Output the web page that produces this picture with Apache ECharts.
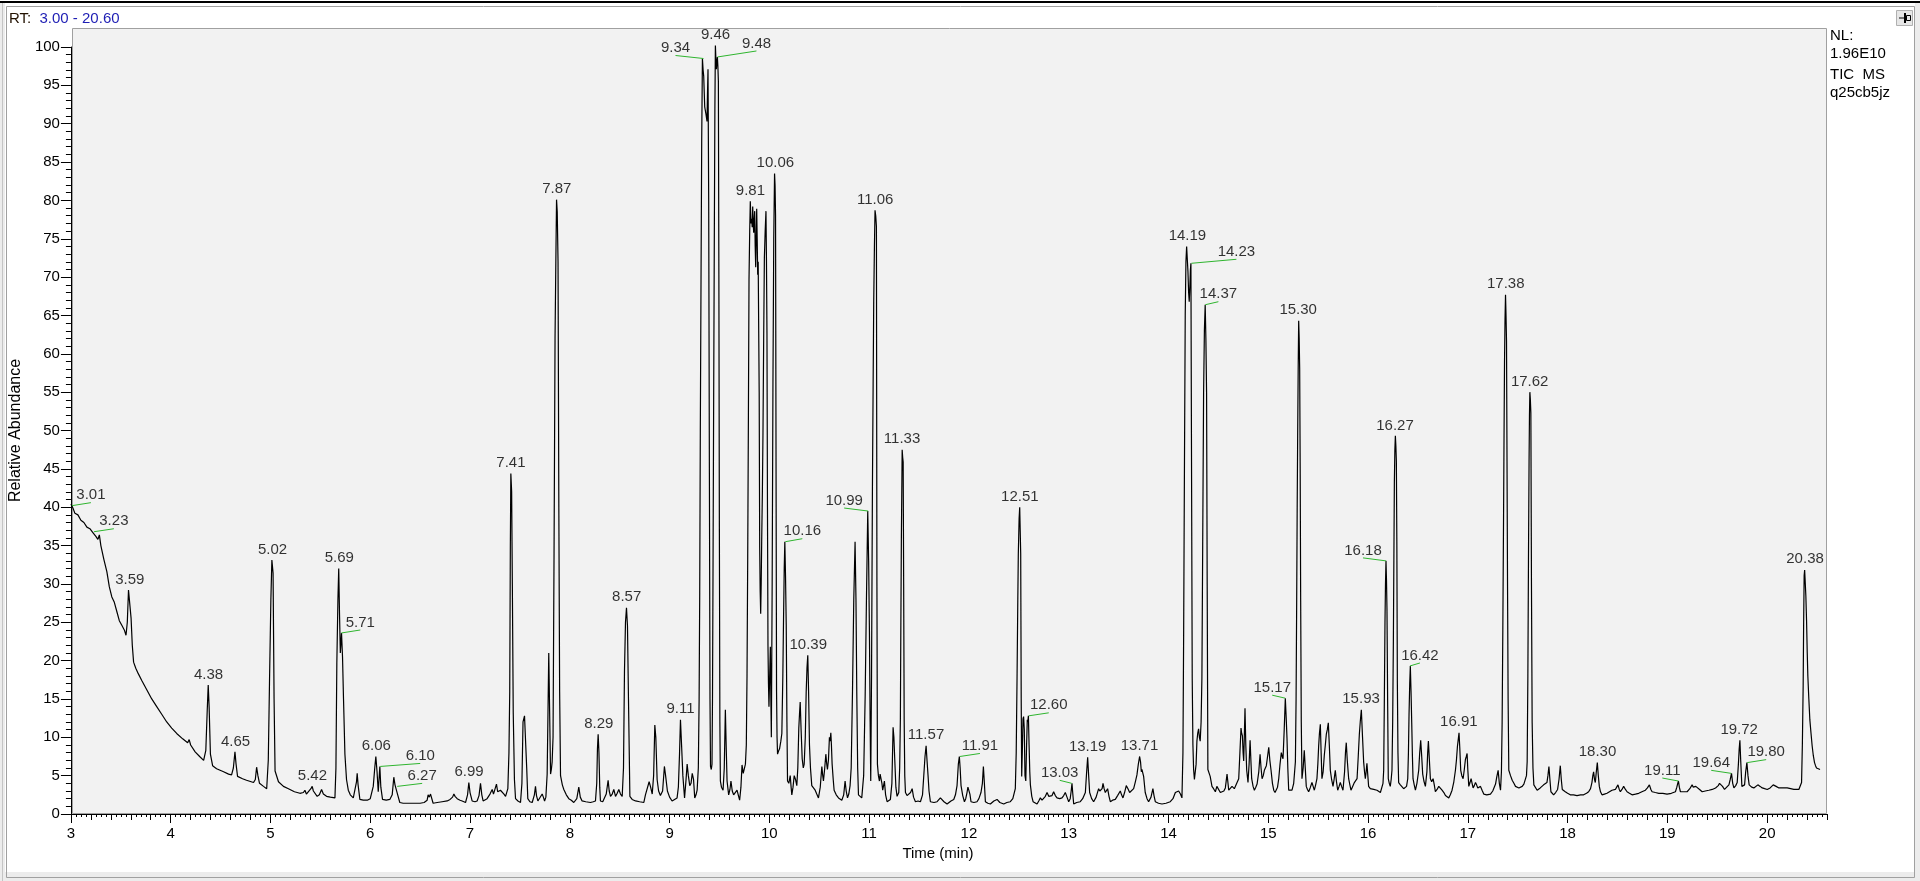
<!DOCTYPE html>
<html>
<head>
<meta charset="utf-8">
<script src="https://cdn.jsdelivr.net/npm/echarts@6.0.0/dist/echarts.min.js"></script>
<style>
  html, body { margin: 0; padding: 0; background: #fff; }
  #main { width: 1920px; height: 881px; }
</style>
</head>
<body>
<div id="main"></div>
<script>
// TIC trace: [time (min), relative abundance]
var trace3 = [
  [3.00,40.4],[3.02,39.9],[3.04,39.2],[3.07,39.0],[3.10,38.3],[3.13,38.0],[3.16,37.4],[3.19,37.2],[3.22,36.7],
  [3.25,36.2],[3.27,35.8],[3.285,36.4],[3.30,35.0],[3.33,33.2],[3.36,31.6],[3.385,29.6],[3.41,28.3],[3.435,27.6],
  [3.46,26.4],[3.485,25.2],[3.51,24.6],[3.535,24.0],[3.552,23.3],[3.565,25.0],[3.577,29.2],[3.591,29.0],
  [3.603,25.5],[3.615,22.0],[3.628,19.8],[3.65,19.0],[3.675,18.3],[3.71,17.4],[3.76,16.2],[3.81,15.0],
  [3.86,14.0],[3.91,13.0],[3.96,12.0],[4.01,11.2],[4.06,10.5],[4.12,9.8],[4.17,9.3],[4.185,9.7],[4.20,9.0],
  [4.245,8.1],[4.29,7.5],[4.33,7.0],[4.352,8.3],[4.366,13.5],[4.376,16.8],[4.385,14.0],[4.398,7.8],[4.42,6.3],
  [4.46,5.9],[4.53,5.5],[4.58,5.2],[4.61,5.1],[4.628,6.0],[4.644,8.1],[4.655,6.5],[4.67,4.9],[4.72,4.6],
  [4.76,4.4],[4.83,4.1],[4.848,4.5],[4.861,6.1],[4.874,5.0],[4.89,4.0],[4.93,3.6],[4.962,3.3],[4.978,7.0],
  [4.99,17.0],[5.004,28.0],[5.014,33.1],[5.026,31.4],[5.036,15.0],[5.046,5.6],[5.08,4.2],[5.13,3.6],
  [5.18,3.3],[5.20,3.5],[5.24,2.9],[5.295,2.7],[5.33,2.8],[5.345,3.1],[5.36,2.6],[5.378,2.6],[5.405,3.3],
  [5.418,3.6],[5.43,3.0],[5.468,2.3],[5.49,2.5],[5.512,3.2],[5.53,2.6],[5.562,2.3],[5.60,2.2],[5.646,2.1],
  [5.656,6.0],[5.665,19.6],[5.676,28.0],[5.684,32.0],[5.692,26.0],[5.70,21.0],[5.712,23.6],[5.722,20.5],
  [5.732,15.0],[5.746,7.8],[5.762,4.5],[5.78,3.1],[5.80,2.5],[5.83,2.1],[5.85,2.3],[5.862,4.2],[5.869,5.3],
  [5.878,3.8],[5.896,1.9],[5.93,1.8],[5.97,1.8],[6.00,2.0],[6.03,3.6],[6.045,6.0],[6.056,7.5],[6.068,5.5],
  [6.08,2.9],[6.088,4.5],[6.096,6.2],[6.106,3.5],[6.123,1.9],[6.16,1.8],[6.196,1.9],[6.22,2.5],[6.236,4.8],
  [6.248,3.8],[6.263,3.6],[6.275,2.5],[6.296,1.5],[6.33,1.4],[6.38,1.4],[6.43,1.4],[6.463,1.4],[6.48,1.6],
  [6.50,1.4],[6.54,1.5],[6.57,1.8],[6.58,2.5],[6.592,2.2],[6.604,2.6],[6.63,1.4]
];
var trace7 = [
  [6.65,1.6],[6.671,1.5],[6.72,1.6],[6.771,1.7],[6.80,1.9],[6.825,2.2],[6.838,2.6],[6.85,2.3],[6.871,2.0],
  [6.90,1.8],[6.921,1.7],[6.955,1.5],[6.975,2.5],[6.988,4.1],[7.00,2.8],[7.021,1.7],[7.05,1.6],[7.071,1.7],
  [7.09,2.4],[7.105,4.0],[7.118,2.5],[7.131,1.7],[7.15,1.8],[7.171,2.0],[7.20,2.6],[7.222,3.2],[7.235,2.6],
  [7.245,2.6],[7.265,3.9],[7.277,2.9],[7.289,2.8],[7.305,3.1],[7.322,3.0],[7.34,2.6],[7.356,2.3],[7.379,3.3],
  [7.39,8.0],[7.398,16.0],[7.404,35.0],[7.409,44.4],[7.417,42.0],[7.424,30.0],[7.433,13.2],[7.445,4.5],
  [7.456,2.0],[7.48,1.7],[7.506,1.5],[7.52,4.0],[7.531,12.0],[7.546,12.8],[7.558,12.6],[7.568,6.0],[7.579,2.0],
  [7.60,1.6],[7.623,1.5],[7.645,2.5],[7.656,3.6],[7.666,2.4],[7.68,1.7],[7.70,1.9],[7.723,2.6],[7.735,2.2],
  [7.747,1.7],[7.76,2.2],[7.773,5.2],[7.781,13.0],[7.789,21.0],[7.797,14.0],[7.807,5.2],[7.815,5.8],
  [7.823,6.8],[7.832,10.0],[7.842,34.0],[7.852,62.0],[7.86,72.0],[7.867,80.1],[7.874,78.5],[7.882,72.0],
  [7.89,40.0],[7.898,16.0],[7.907,5.0],[7.925,3.8],[7.94,3.2],[7.965,2.5],[7.99,2.0],[8.015,1.8],[8.04,1.5],
  [8.07,2.0],[8.09,3.5],[8.105,2.2],[8.123,1.7],[8.16,1.6],[8.207,1.5],[8.235,1.6],[8.257,1.7],[8.27,4.0],
  [8.277,8.5],[8.284,10.4],[8.292,8.0],[8.30,3.5],[8.307,1.7],[8.33,1.6],[8.347,1.5],[8.365,2.6],[8.384,4.4],
  [8.395,3.0],[8.408,2.3],[8.425,2.6],[8.441,3.2],[8.458,2.3],[8.475,2.7],[8.491,3.2],[8.508,2.6],[8.525,2.3],
  [8.538,6.0],[8.548,18.7],[8.558,25.0],[8.568,26.9],[8.578,24.5],[8.588,15.0],[8.602,2.3],[8.625,1.9],
  [8.659,1.7],[8.70,1.6],[8.742,1.5],[8.758,2.5],[8.776,2.3],[8.795,4.2],[8.81,3.5],[8.826,2.6],[8.84,5.0],
  [8.852,11.6],[8.862,10.0],[8.875,4.5],[8.89,3.0],[8.908,2.4],[8.93,3.0],[8.948,6.2],[8.96,5.0],[8.978,3.0],
  [9.00,2.2],[9.025,1.7],[9.044,1.6],[9.075,2.1],[9.088,3.5],[9.10,8.0],[9.109,12.3],[9.12,9.0],[9.133,5.0],
  [9.15,2.1],[9.165,4.5],[9.176,6.5],[9.188,5.0],[9.202,3.7],[9.215,4.0],[9.227,5.3],[9.24,4.5],[9.252,2.1],
  [9.265,2.5],[9.276,3.1],[9.288,6.0]
];
var trace9 = [
  [9.296,15.0],[9.302,28.8],[9.308,50.0],[9.315,69.5],[9.322,88.0],[9.329,98.5],[9.336,97.0],[9.342,96.2],
  [9.352,92.2],[9.365,91.2],[9.375,90.3],[9.38,94.0],[9.385,97.1],[9.392,80.0],[9.399,44.3],[9.405,15.0],
  [9.41,6.2],[9.418,5.8],[9.425,6.5],[9.43,15.0],[9.435,30.8],[9.442,55.0],[9.449,77.4],[9.454,92.0],
  [9.459,100.2],[9.464,98.5],[9.469,97.1],[9.474,98.0],[9.479,98.7],[9.484,97.5],[9.489,95.5],[9.494,70.0],
  [9.499,36.8],[9.504,12.0],[9.509,4.3],[9.52,3.5],[9.536,3.1],[9.548,6.0],[9.559,13.6],[9.567,9.0],
  [9.576,4.3],[9.592,2.5],[9.605,3.2],[9.615,4.3],[9.628,3.0],[9.642,2.5],[9.66,2.7],[9.676,3.1],[9.69,2.4],
  [9.702,1.8],[9.715,3.5],[9.726,6.4],[9.738,5.3],[9.749,5.3],[9.76,6.5],[9.769,9.0],[9.776,18.0],
  [9.783,33.5],[9.79,52.0],[9.796,69.7],[9.803,76.0],[9.809,79.9],[9.816,77.0],[9.823,77.6],[9.828,76.5],
  [9.833,79.2],[9.838,77.0],[9.843,75.8],[9.848,77.5],[9.853,78.6],[9.858,74.0],[9.863,71.3],[9.868,75.0],
  [9.873,78.9],[9.878,75.0],[9.883,70.3],[9.888,72.0],[9.893,71.8],[9.898,55.0],[9.903,34.8],[9.908,29.0],
  [9.913,26.1],[9.918,30.0],[9.923,35.5],[9.93,42.0],[9.936,49.7],[9.943,62.0],[9.95,72.5],[9.958,76.0],
  [9.966,78.6],[9.971,72.0],[9.976,62.6],[9.981,40.0],[9.986,22.0],[9.991,17.0],[9.996,14.0],[10.003,18.0],
  [10.01,21.8],[10.015,15.0],[10.02,10.0],[10.028,30.0],[10.036,56.4],[10.044,75.0],[10.052,83.5],
  [10.057,82.0],[10.062,78.0],[10.067,45.0],[10.072,16.0],[10.077,10.0],[10.082,7.8],[10.092,8.2],
  [10.102,8.5],[10.115,9.5],[10.125,10.5],[10.135,18.0],[10.142,25.4],[10.149,32.0],[10.155,35.5],
  [10.162,31.0],[10.169,24.7],[10.176,12.0],[10.182,4.3],[10.195,4.0],[10.209,5.0],[10.218,3.5],[10.225,2.5],
  [10.237,3.5],[10.249,5.0],[10.262,4.5],[10.275,3.7],[10.285,6.0],[10.295,11.2],[10.302,13.0],[10.309,14.6],
  [10.318,11.0],[10.329,7.2],[10.34,6.0],[10.349,6.5],[10.36,10.0],[10.369,15.9],[10.377,19.0],[10.385,20.7],
  [10.393,16.0],[10.402,9.0],[10.412,6.0],[10.425,3.7],[10.44,3.5],[10.459,3.1],[10.475,2.6],[10.492,2.1],
  [10.51,3.5],[10.526,6.2],[10.535,5.0],[10.542,4.3],[10.555,6.0],[10.566,7.8],[10.575,6.5],[10.582,5.8],
  [10.592,7.0],[10.602,10.0],[10.609,9.5],[10.616,10.6],[10.622,9.0],[10.629,6.5],[10.64,4.5],[10.649,3.1],
  [10.67,2.5],[10.693,2.1],[10.726,1.8],[10.745,2.5],[10.759,4.3],[10.77,3.0],[10.783,2.1],[10.796,2.6],
  [10.809,3.7],[10.82,6.0],[10.833,15.9],[10.846,28.0],[10.859,35.5],[10.868,28.0],[10.876,15.9],[10.885,6.0],
  [10.893,2.5],[10.91,2.3],[10.926,2.1],[10.945,5.0],[10.96,15.3],[10.973,28.0],[10.986,39.5],[10.995,33.0],
  [11.003,23.6],[11.01,12.0],[11.016,4.3],[11.024,18.0],[11.033,42.7],[11.04,56.0],[11.046,66.9],
  [11.053,74.0],[11.059,78.7],[11.066,78.0],[11.073,76.6],[11.078,30.0],[11.083,6.5],[11.093,5.0],
  [11.103,4.3],[11.11,5.2],[11.119,5.2],[11.128,4.0],[11.136,3.1],[11.145,3.2],[11.153,4.3],[11.165,2.5],
  [11.18,1.6]
];
var trace11 = [
  [11.213,1.9],[11.228,4.0],[11.24,11.3],[11.248,10.0],[11.257,7.0],[11.268,3.5],[11.28,2.3],[11.297,2.8],
  [11.306,6.0],[11.313,12.4],[11.318,25.0],[11.323,36.0],[11.331,47.5],[11.336,46.5],[11.341,45.9],
  [11.346,30.0],[11.351,12.4],[11.357,5.0],[11.364,2.8],[11.38,2.4],[11.397,2.3],[11.415,2.8],[11.431,3.3],
  [11.445,2.2],[11.464,1.6],[11.49,1.7],[11.514,1.6],[11.535,2.5],[11.547,4.9],[11.56,7.5],[11.571,8.9],
  [11.58,7.0],[11.591,4.9],[11.60,3.0],[11.614,1.6],[11.65,1.5],[11.681,1.6],[11.70,1.8],[11.714,2.1],
  [11.75,1.6],[11.781,1.3],[11.82,1.7],[11.848,1.9],[11.865,2.5],[11.881,3.7],[11.894,6.5],[11.904,7.5],
  [11.912,6.0],[11.921,3.7],[11.938,2.4],[11.955,1.6],[11.968,2.0],[11.981,2.8],[11.99,3.5],[11.998,3.7],
  [12.01,2.6],[12.021,1.6],[12.05,1.5],[12.081,1.6],[12.10,2.0],[12.121,2.8],[12.135,4.0],[12.145,6.2],
  [12.155,4.0],[12.165,1.6],[12.19,1.4],[12.215,1.3],[12.25,1.7],[12.282,1.9],[12.31,1.5],[12.349,1.3],
  [12.38,1.5],[12.415,1.6],[12.44,2.0],[12.465,3.3],[12.474,8.0],[12.482,17.3],[12.49,28.0],[12.495,33.9],
  [12.503,38.5],[12.509,40.0],[12.514,37.0],[12.519,33.9],[12.524,15.0],[12.529,4.9],[12.535,8.0],
  [12.542,12.4],[12.548,12.7],[12.555,11.0],[12.562,5.0],[12.57,4.3],[12.578,9.0],[12.585,12.3],[12.59,12.0],
  [12.596,12.8],[12.603,9.0],[12.61,5.5],[12.616,3.8],[12.63,2.3],[12.643,1.6],[12.663,1.5],[12.683,1.3],
  [12.70,1.7],[12.716,2.1],[12.733,1.8],[12.749,1.9],[12.766,2.3],[12.783,2.8],[12.80,2.3],[12.816,2.1],
  [12.833,2.4],[12.849,2.9],[12.866,2.4],[12.883,2.1],[12.91,2.0],[12.933,2.1],[12.95,2.4],[12.966,2.8],
  [12.983,2.2],[13.00,1.6],[13.015,2.0],[13.025,3.0],[13.033,4.0],[13.04,2.8],[13.05,1.3],[13.08,1.5],
  [13.116,1.6],[13.14,2.0],[13.167,2.8],[13.18,5.5],[13.19,7.4],[13.20,5.0],[13.21,2.8],[13.23,2.0],
  [13.25,1.6],[13.275,2.2],[13.30,3.3],[13.312,3.0],[13.324,2.8],[13.335,3.3],[13.344,4.0],[13.355,3.3],
  [13.367,2.8],[13.378,3.0],[13.39,3.3],[13.404,2.3],[13.417,1.6],[13.44,1.8],[13.467,1.9],[13.49,2.4],
  [13.517,3.0],[13.53,2.5],[13.544,2.1],[13.56,2.8],[13.577,3.7],[13.594,3.3],[13.611,2.8],[13.63,2.9],
  [13.651,3.3],[13.668,4.2],[13.684,5.1],[13.698,6.5],[13.711,7.5],[13.72,6.8],[13.728,5.5],[13.734,5.8],
  [13.741,5.6],[13.751,4.9],[13.767,2.8],[13.785,2.0],[13.801,1.6],[13.825,2.2],[13.844,3.3],[13.855,2.4],
  [13.868,1.6],[13.90,1.4],[13.935,1.3],[13.975,1.4],[14.018,1.6],[14.045,2.0],[14.069,2.8],[14.085,2.6],
  [14.102,3.0],[14.12,2.6],[14.135,2.1]
];
var trace14 = [
  [14.145,8.0],[14.152,23.2],[14.16,45.0],[14.168,65.2],[14.175,72.0],[14.182,74.0],[14.188,72.5],
  [14.195,70.8],[14.202,68.0],[14.208,66.8],[14.215,69.0],[14.22,71.0],[14.225,71.8],[14.23,50.0],
  [14.238,17.7],[14.245,9.0],[14.252,5.8],[14.26,4.5],[14.268,4.3],[14.277,6.5],[14.285,9.5],[14.293,10.5],
  [14.302,11.1],[14.31,10.0],[14.318,9.5],[14.327,12.0],[14.335,17.7],[14.343,35.0],[14.352,54.9],
  [14.36,63.0],[14.368,66.4],[14.375,62.0],[14.382,54.9],[14.388,30.0],[14.395,5.8],[14.403,5.7],
  [14.418,4.9],[14.436,3.6],[14.452,3.3],[14.47,2.9],[14.485,3.6],[14.503,3.6],[14.52,2.8],[14.537,2.6],
  [14.555,3.0],[14.57,3.4],[14.587,5.2],[14.604,3.1],[14.62,3.2],[14.637,3.6],[14.66,3.3],[14.68,3.1],
  [14.704,4.6],[14.716,8.0],[14.727,11.2],[14.734,10.5],[14.741,10.2],[14.748,8.0],[14.754,6.9],[14.76,10.0],
  [14.767,13.8],[14.775,9.0],[14.784,5.7],[14.797,4.1],[14.808,6.5],[14.818,9.6],[14.826,7.0],[14.834,4.6],
  [14.848,3.6],[14.861,3.1],[14.875,3.5],[14.888,3.9],[14.905,5.5],[14.918,7.8],[14.928,6.0],[14.938,4.6],
  [14.95,5.0],[14.961,5.7],[14.971,6.0],[14.981,6.3],[14.993,7.5],[15.005,8.7],[15.016,7.0],[15.028,5.7],
  [15.042,4.0],[15.055,3.1],[15.068,2.8],[15.081,2.6],[15.093,3.5],[15.105,4.6],[15.118,6.5],[15.131,8.0],
  [15.14,7.5],[15.148,7.2],[15.16,11.0],[15.171,15.1],[15.18,12.5],[15.188,9.8],[15.196,6.0],[15.205,3.1],
  [15.22,3.0],[15.238,3.1],[15.255,4.0],[15.272,6.8],[15.279,15.0],[15.285,27.8],[15.29,40.0],[15.295,49.6],
  [15.30,58.0],[15.305,64.3],[15.31,62.0],[15.315,58.0],[15.32,45.0],[15.325,27.8],[15.331,12.0],
  [15.338,4.6],[15.35,6.0],[15.361,8.3],[15.371,6.0],[15.381,3.6],[15.393,3.2],[15.405,2.9],[15.42,3.4],
  [15.438,4.1],[15.45,3.6],[15.462,3.1],[15.475,3.8],[15.488,4.6],[15.497,6.5],[15.505,8.8],[15.513,10.5],
  [15.522,11.7],[15.53,8.0],[15.538,4.6],[15.55,5.5],[15.562,7.7],[15.572,9.0],[15.582,10.4],[15.592,11.0],
  [15.602,11.9],[15.612,9.0],[15.622,5.7],[15.635,4.5],[15.649,3.6],[15.66,4.5],[15.672,5.7],[15.684,4.2],
  [15.696,3.1],[15.71,3.6],[15.722,4.1],[15.735,3.6],[15.749,3.1],[15.765,5.5],[15.774,8.0],[15.782,9.3],
  [15.792,7.0],[15.806,4.6],[15.818,3.8],[15.829,3.1],[15.846,3.6],[15.863,4.1],[15.876,4.3],[15.89,4.6],
  [15.902,7.5],[15.913,10.4],[15.922,12.0],[15.933,13.6],[15.945,10.0],[15.956,6.8],[15.965,5.5],
  [15.973,4.6],[15.981,5.5],[15.989,6.6],[15.998,5.0],[16.006,3.6]
];
var trace16 = [
  [16.023,3.3],[16.04,3.1],[16.057,3.2],[16.073,3.4],[16.09,3.1],[16.107,2.9],[16.124,2.8],[16.14,2.6],
  [16.15,4.0],[16.157,5.7],[16.163,14.0],[16.17,25.1],[16.175,30.0],[16.18,33.0],[16.185,30.5],[16.19,26.6],
  [16.197,14.0],[16.203,4.6],[16.213,4.0],[16.223,3.6],[16.232,4.5],[16.24,5.7],[16.247,12.0],[16.254,22.5],
  [16.259,33.0],[16.264,43.3],[16.269,47.5],[16.274,49.3],[16.279,48.0],[16.284,46.0],[16.289,35.0],
  [16.294,17.1],[16.30,8.0],[16.307,4.1],[16.324,3.8],[16.341,3.6],[16.357,3.3],[16.374,3.1],[16.386,3.6],
  [16.398,4.6],[16.405,8.0],[16.411,13.0],[16.418,17.0],[16.424,19.3],[16.431,16.0],[16.438,11.9],
  [16.445,7.5],[16.451,4.6],[16.463,3.8],[16.475,3.1],[16.49,4.0],[16.508,5.7],[16.518,8.0],[16.528,9.6],
  [16.538,7.5],[16.548,5.2],[16.56,4.3],[16.575,3.6],[16.59,5.5],[16.598,8.0],[16.605,9.5],[16.615,7.0],
  [16.625,4.6],[16.638,4.2],[16.652,4.6],[16.664,3.8],[16.675,2.9],[16.692,3.2],[16.709,3.6],[16.725,3.4],
  [16.742,3.1],[16.76,2.8],[16.776,2.4],[16.792,2.2],[16.809,2.1],[16.825,2.5],[16.842,3.1],[16.86,4.2],
  [16.876,5.7],[16.886,7.0],[16.896,8.8],[16.905,9.8],[16.912,10.6],[16.92,8.5],[16.929,5.7],[16.94,5.0],
  [16.953,4.6],[16.965,5.8],[16.976,7.1],[16.985,7.5],[16.993,7.9],[17.00,5.8],[17.01,3.6],[17.022,4.1],
  [17.033,4.6],[17.043,4.0],[17.053,3.4],[17.065,3.7],[17.077,4.1],[17.088,3.8],[17.10,3.4],[17.113,3.5],
  [17.127,3.6],[17.143,3.1],[17.16,2.6],[17.19,2.5],[17.227,2.6],[17.25,3.0],[17.278,3.9],[17.29,4.8],
  [17.304,5.7],[17.316,4.0],[17.328,3.1],[17.337,5.5],[17.344,11.9],[17.351,24.0],[17.358,38.1],
  [17.363,49.0],[17.368,59.0],[17.373,64.5],[17.378,67.7],[17.383,65.0],[17.388,61.7],[17.393,46.0],
  [17.398,30.3],[17.404,15.0],[17.411,5.7],[17.428,5.0],[17.445,4.4],[17.462,4.0],[17.478,3.6],[17.495,3.5],
  [17.512,3.4],[17.528,3.5],[17.545,3.6],[17.562,3.9],[17.578,4.1],[17.588,5.0],[17.595,6.8],[17.602,18.0],
  [17.608,33.0],[17.614,46.0],[17.618,52.0],[17.622,55.0],[17.627,54.0],[17.632,52.3],[17.638,30.0],
  [17.645,11.9],[17.653,6.0],[17.662,3.8],[17.676,3.6],[17.695,3.1]
];
var trace18 = [
  [17.71,3.2],[17.726,3.4],[17.743,3.6],[17.76,3.8],[17.776,4.0],[17.793,4.1],[17.803,5.0],[17.813,6.2],
  [17.823,4.5],[17.833,2.9],[17.847,2.7],[17.86,2.5],[17.88,2.8],[17.90,3.2],[17.914,4.5],[17.927,6.3],
  [17.937,4.5],[17.947,3.2],[17.962,3.0],[17.977,2.9],[18.00,2.7],[18.027,2.5],[18.06,2.5],[18.094,2.4],
  [18.13,2.5],[18.161,2.5],[18.19,2.7],[18.211,2.9],[18.23,3.3],[18.244,4.1],[18.253,5.0],[18.261,5.5],
  [18.27,4.5],[18.278,4.1],[18.288,5.5],[18.298,6.7],[18.308,5.0],[18.318,3.6],[18.33,2.9],[18.345,2.5],
  [18.37,2.6],[18.395,2.7],[18.42,2.9],[18.445,3.1],[18.462,3.0],[18.479,3.2],[18.492,3.5],[18.505,3.8],
  [18.518,3.2],[18.529,2.9],[18.545,3.2],[18.562,3.6],[18.58,3.2],[18.596,2.9],[18.62,2.7],[18.646,2.5],
  [18.68,2.6],[18.713,2.7],[18.745,2.9],[18.78,3.1],[18.80,3.4],[18.82,3.8],[18.835,3.2],[18.847,2.9],
  [18.88,2.8],[18.914,2.7],[18.955,2.7],[18.997,2.6],[19.04,2.7],[19.081,2.9],[19.095,3.5],[19.104,4.0],
  [19.111,4.3],[19.12,3.5],[19.131,2.9],[19.165,2.9],[19.198,2.9],[19.225,3.3],[19.248,3.8],[19.26,3.5],
  [19.272,3.4],[19.285,3.6],[19.298,3.8],[19.323,3.2],[19.349,2.9],[19.38,3.0],[19.416,3.1],[19.45,3.2],
  [19.483,3.4],[19.51,3.7],[19.523,4.0],[19.533,4.2],[19.553,3.6],[19.573,3.2],[19.595,3.5],[19.617,3.8],
  [19.63,4.5],[19.643,5.3],[19.655,4.0],[19.667,3.4],[19.685,3.7],[19.70,4.1],[19.712,6.5],[19.72,8.5],
  [19.727,9.6],[19.735,7.0],[19.747,3.6],[19.76,3.5],[19.774,3.8],[19.785,5.5],[19.797,6.7],[19.808,5.0],
  [19.82,3.8],[19.845,3.5],[19.867,3.4],[19.887,3.6],[19.907,3.8],[19.93,3.6],[19.951,3.4],[19.975,3.3],
  [20.001,3.2],[20.03,3.4],[20.061,3.8],[20.09,3.6],[20.118,3.4],[20.16,3.4],[20.201,3.4],[20.235,3.3],
  [20.268,3.2],[20.295,3.2],[20.318,3.2],[20.335,3.4],[20.345,4.1],[20.353,9.0],[20.361,16.6],[20.366,25.0],
  [20.371,31.1],[20.376,31.8],[20.381,31.9],[20.388,28.5],[20.395,25.3],[20.402,21.0],[20.408,18.0],
  [20.418,15.0],[20.428,12.3],[20.44,10.5],[20.451,8.9],[20.463,7.6],[20.475,6.7],[20.485,6.3],[20.495,6.0],
  [20.51,5.9],[20.53,5.8]
];

// labelled peaks: retention time and apex height
var peakRT = [3.01, 3.23, 3.59, 4.38, 4.65, 5.02, 5.42, 5.69, 5.71, 6.06, 6.10, 6.27, 6.99, 7.41, 7.87,
  8.29, 8.57, 9.11, 9.34, 9.46, 9.48, 9.81, 10.06, 10.16, 10.39, 10.99, 11.06, 11.33, 11.57, 11.91, 12.51,
  12.60, 13.03, 13.19, 13.71, 14.19, 14.23, 14.37, 15.17, 15.30, 15.93, 16.18, 16.27, 16.42, 16.91, 17.38,
  17.62, 18.30, 19.11, 19.64, 19.72, 19.80, 20.38];
var peakTop = [40.2, 36.8, 29.2, 16.8, 8.1, 33.1, 3.6, 32.0, 23.6, 7.5, 6.2, 3.6, 4.1, 44.4, 80.1,
  10.4, 26.9, 12.3, 98.5, 100.2, 98.7, 79.9, 83.5, 35.5, 20.7, 39.5, 78.7, 47.5, 8.9, 7.5, 40.0,
  12.8, 4.0, 7.4, 7.5, 74.0, 71.8, 66.4, 15.1, 64.3, 13.6, 33.0, 49.3, 19.3, 10.6, 67.7,
  55.0, 6.7, 4.3, 5.3, 9.6, 6.7, 31.9];

var xTickValues = [3, 4, 5, 6, 7, 8, 9, 10, 11, 12, 13, 14, 15, 16, 17, 18, 19, 20];
var headerLines = ['NL:', '1.96E10', 'TIC  MS', 'q25cb5jz'];

// labels that the data system pushed sideways (px), drawn with a green leader
var labelShift = {
  '3.01': [19, 0], '3.23': [20, 0], '5.71': [19, 0], '6.10': [40, 0], '6.27': [25, 0],
  '9.34': [-28, 0], '9.48': [39, -3], '10.16': [17, 0], '10.99': [-24, 0], '11.91': [20, 0],
  '12.60': [20, 0], '13.03': [-12, 0], '14.23': [45, -1], '14.37': [13, 0], '15.17': [-13, 0],
  '16.18': [-23, 0], '16.42': [10, 0], '19.11': [-16, 0], '19.64': [-20, 0], '19.80': [19, 0]
};

var FONT = '"Liberation Sans", Arial, sans-serif';
var GRID = { left: 70, right: 93, top: 47, bottom: 67 };
var X_MIN = 3, X_MAX = 20.6;
var pxPerMin = (1920 - GRID.left - GRID.right) / (X_MAX - X_MIN);
var pxPerUnit = (881 - GRID.top - GRID.bottom) / 100;

var trace = [].concat(trace3, trace7, trace9, trace11, trace14, trace16, trace18);

var peakData = [];
var leaders = [];
for (var i = 0; i < peakRT.length; i++) {
  var key = peakRT[i].toFixed(2);
  var item = { value: [peakRT[i], peakTop[i]] };
  var s = labelShift[key];
  if (s) {
    item.label = { offset: [s[0], s[1]] };
    leaders.push([
      { coord: [peakRT[i], peakTop[i]] },
      { coord: [peakRT[i] + s[0] / pxPerMin, peakTop[i] + (3 - s[1]) / pxPerUnit] }
    ]);
  }
  peakData.push(item);
}

var chart = echarts.init(document.getElementById('main'), null, { renderer: 'canvas' });

var graphics = [
  // window frame
  { type: 'rect', shape: { x: 0, y: 0, width: 1920, height: 881 }, style: { fill: '#ffffff' }, z: -30 },
  { type: 'rect', shape: { x: 0, y: 1, width: 1920, height: 2 }, style: { fill: '#000000' }, z: -20 },
  { type: 'rect', shape: { x: 0, y: 3, width: 5, height: 878 }, style: { fill: '#ececec' }, z: -20 },
  { type: 'rect', shape: { x: 1915, y: 3, width: 5, height: 878 }, style: { fill: '#ececec' }, z: -20 },
  { type: 'rect', shape: { x: 0, y: 872, width: 1920, height: 9 }, style: { fill: '#ececec' }, z: -20 },
  { type: 'rect', shape: { x: 6.5, y: 6.5, width: 1908, height: 871 }, style: { fill: 'none', stroke: '#a0a0a0', lineWidth: 1 }, z: -19 },
  { type: 'line', shape: { x1: 2.5, y1: 3, x2: 2.5, y2: 881 }, style: { stroke: '#c4c4c4', lineWidth: 1 }, z: -19 },
  // plot background
  { type: 'rect', shape: { x: 72.5, y: 28.5, width: 1754, height: 785 }, style: { fill: '#f2f2f2', stroke: '#a0a0a0', lineWidth: 1 }, z: -10 },
  // run range header
  { type: 'text', x: 9, y: 19, style: { text: 'RT:', font: '15px ' + FONT, fill: '#221100', verticalAlign: 'middle' } },
  { type: 'text', x: 39.5, y: 19, style: { text: '3.00 - 20.60', font: '15px ' + FONT, fill: '#1e1eb4', verticalAlign: 'middle' } },
  // pin button
  { type: 'rect', shape: { x: 1896.5, y: 10.5, width: 16, height: 15 }, style: { fill: '#e6e6e6', stroke: '#b0b0b0', lineWidth: 1 } },
  { type: 'line', shape: { x1: 1899, y1: 18, x2: 1904, y2: 18 }, style: { stroke: '#000', lineWidth: 1 } },
  { type: 'rect', shape: { x: 1904, y: 13, width: 2, height: 10 }, style: { fill: '#000' } },
  { type: 'rect', shape: { x: 1906.5, y: 15.5, width: 4, height: 5 }, style: { fill: 'none', stroke: '#000', lineWidth: 1 } }
];
var headerY = [36, 54, 75, 93];
headerLines.forEach(function (t, k) {
  graphics.push({ type: 'text', x: 1830, y: headerY[k],
    style: { text: t, font: '15px ' + FONT, fill: '#000', verticalAlign: 'middle' } });
});

var option = {
  animation: false,
  backgroundColor: '#ffffff',
  textStyle: { fontFamily: FONT },
  grid: { left: GRID.left, right: GRID.right, top: GRID.top, bottom: GRID.bottom, containLabel: false },
  graphic: graphics,
  xAxis: [
    {
      type: 'value', min: X_MIN, max: X_MAX, interval: 1, position: 'bottom',
      name: 'Time (min)', nameLocation: 'middle', nameGap: 30,
      nameTextStyle: { color: '#000', fontSize: 15, fontFamily: FONT, padding: [0, 22, 0, 0] },
      axisLine: { show: true, lineStyle: { color: '#000', width: 1 } },
      axisTick: { show: true, length: 9, customValues: xTickValues, lineStyle: { color: '#000' } },
      axisLabel: { customValues: xTickValues, color: '#000', fontSize: 15, fontFamily: FONT, margin: 12 },
      splitLine: { show: false }
    },
    {
      type: 'value', min: X_MIN, max: X_MAX, interval: 0.2, position: 'bottom',
      axisLine: { show: false }, axisLabel: { show: false }, splitLine: { show: false },
      axisTick: { show: true, length: 6, lineStyle: { color: '#000' } }
    },
    {
      type: 'value', min: X_MIN, max: X_MAX, interval: 0.05, position: 'bottom',
      axisLine: { show: false }, axisLabel: { show: false }, splitLine: { show: false },
      axisTick: { show: true, length: 3, lineStyle: { color: '#000' } }
    }
  ],
  yAxis: {
    type: 'value', min: 0, max: 100, interval: 5, position: 'left',
    name: 'Relative Abundance', nameLocation: 'middle', nameGap: 28,
    nameTextStyle: { color: '#000', fontSize: 16, fontFamily: FONT },
    axisLine: { show: true, lineStyle: { color: '#000', width: 1 } },
    axisTick: { show: true, length: 10, lineStyle: { color: '#000' } },
    minorTick: { show: true, splitNumber: 5, length: 5, lineStyle: { color: '#000' } },
    axisLabel: { color: '#000', fontSize: 15, fontFamily: FONT, margin: 11 },
    splitLine: { show: false }, minorSplitLine: { show: false }
  },
  series: [
    {
      name: 'TIC', type: 'line', data: trace, showSymbol: false, symbol: 'none',
      clip: false, smooth: false, z: 3,
      lineStyle: { color: '#000', width: 1.2 }
    },
    {
      name: 'peaks', type: 'scatter', data: peakData, symbolSize: 0, clip: false, z: 4,
      itemStyle: { color: 'transparent' },
      label: {
        show: true, position: 'top', distance: 3, color: '#000', fontSize: 15, fontFamily: FONT,
        formatter: function (p) { return p.value[0].toFixed(2); }
      },
      markLine: {
        silent: true, symbol: ['none', 'none'], animation: false,
        label: { show: false },
        lineStyle: { color: '#2fb52f', width: 1, type: 'solid' },
        emphasis: { disabled: true },
        data: leaders
      }
    }
  ]
};
chart.setOption(option);
</script>
</body>
</html>
